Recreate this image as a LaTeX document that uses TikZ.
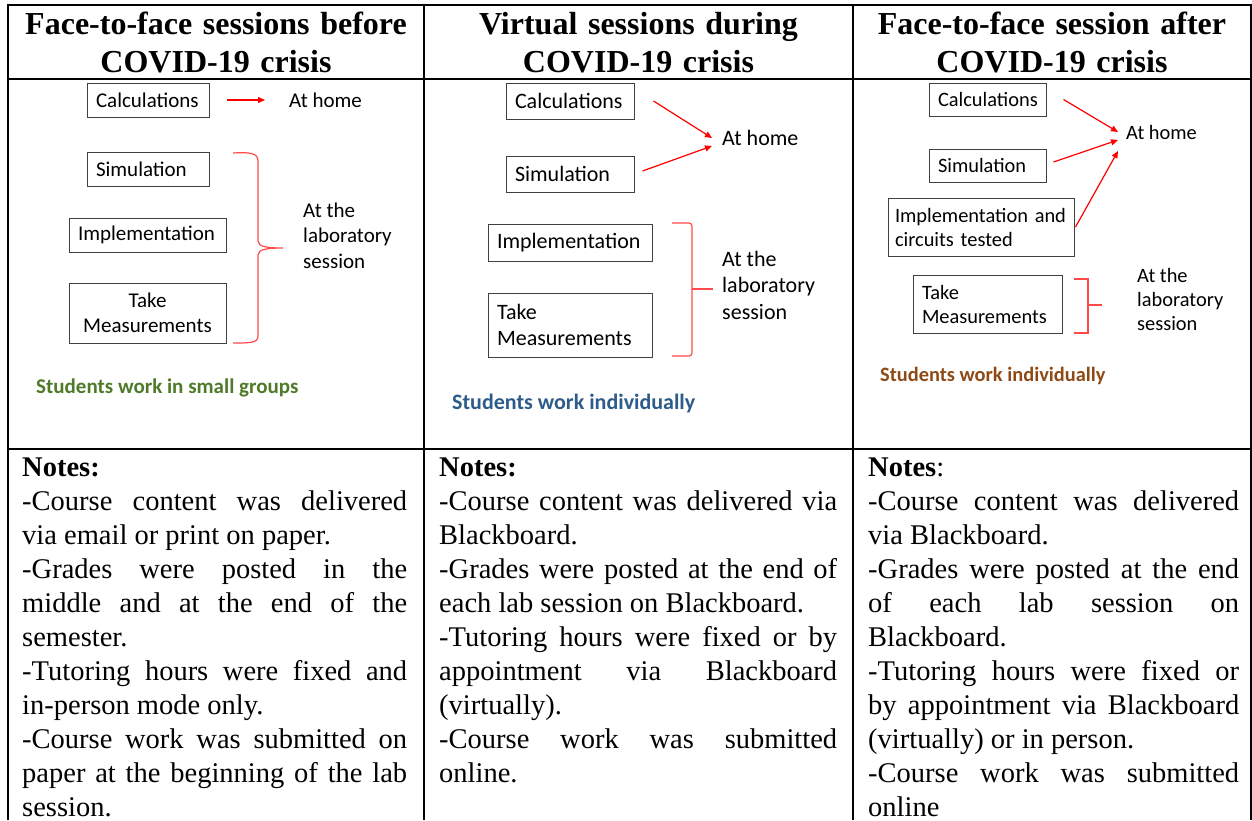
\documentclass[tikz,border=0pt]{standalone}
\usepackage{fontspec}
\setmainfont{Liberation Serif}
\newfontfamily\labfamily{Carlito}
\usepackage{xcolor}
\usetikzlibrary{arrows.meta}
\definecolor{groupgreen}{HTML}{4E7A2A}
\definecolor{soloblue}{HTML}{2E5C8A}
\definecolor{solobrown}{HTML}{8E4A16}
\definecolor{bracered}{HTML}{FF4A4A}
\newcommand\labA{\labfamily\fontsize{21}{25.5}\selectfont}
\newcommand\labB{\labfamily\fontsize{22}{26.5}\selectfont}
\newcommand\labC{\labfamily\fontsize{20.4}{24}\selectfont}
\tikzset{grid/.style={line width=1.3pt},
         head/.style={font=\bfseries\fontsize{32}{38}\selectfont,text width=400pt,align=center,inner sep=0pt,anchor=base},
         task/.style={rectangle,draw=black!75,line width=1pt,inner xsep=9pt,inner ysep=0pt,align=left},
         place/.style={inner sep=0pt,anchor=west,align=left},
         crew/.style={inner sep=0pt,anchor=base west},
         notes/.style={font=\fontsize{28.5}{34}\selectfont,align=justify,inner sep=0pt,anchor=base west},
         arrow/.style={-{Triangle[length=7pt,width=6pt]},red,line width=1.2pt},
         bracket/.style={bracered,line width=1.2pt}}

\begin{document}
\begin{tikzpicture}[x=1pt,y=-1pt]
    \useasboundingbox (0,0) rectangle (1252,820);
    % Table grid
    \draw[grid] (8,820) -- (8,5) -- (1251,5) -- (1251,820);
    \draw[grid] (424,5) -- (424,820);
    \draw[grid] (853,5) -- (853,820);
    \draw[grid] (8,79) -- (1251,79);
    \draw[grid] (8,449) -- (1251,449);
    % Headings
    \node (headA) at (216,34) [head]{Face-to-face sessions before\\COVID-19 crisis};
    \node (headB) at (638.5,34) [head]{Virtual sessions during\\COVID-19 crisis};
    \node (headC) at (1052,34) [head]{Face-to-face session after\\COVID-19 crisis};
    % Before: tasks
    \node (calcA) at (148,100) [task,font=\labA,text width=104pt,minimum height=34pt]{Calculations};
    \node (simA) at (148,169) [task,font=\labA,text width=104pt,minimum height=34pt]{Simulation};
    \node (implA) at (147.5,235) [task,font=\labA,text width=139pt,minimum height=34pt]{Implementation};
    \node (measA) at (147.5,313) [task,font=\labA,text width=139pt,minimum height=60pt,align=center]{Take\\Measurements};
    \node (homeA) at (289,100) [place,font=\labA]{At home};
    \node (labA) at (303,235.5) [place,font=\labA]{At the\\laboratory\\session};
    \node (crewA) at (36,393) [crew,font=\labA\bfseries,text=groupgreen]{Students work in small groups};
    \draw[arrow] ([xshift=17pt]calcA.east) -- ([xshift=-24pt]homeA.west);
    \draw[bracket] (233,153) .. controls (250,152) and (258,153) .. (258,161) -- (258,241)
        .. controls (258,247) and (268,248) .. (283,248) .. controls (268,248) and (258,249) .. (258,255)
        -- (258,336) .. controls (258,343) and (250,343) .. (233,343);
    % During: tasks
    \node (calcB) at (570,101) [task,font=\labB,text width=110pt,minimum height=36pt]{Calculations};
    \node (simB) at (570,174) [task,font=\labB,text width=110pt,minimum height=36pt]{Simulation};
    \node (implB) at (570,242.5) [task,font=\labB,text width=146pt,minimum height=37pt]{Implementation};
    \node (measB) at (570,325) [task,font=\labB,text width=146pt,minimum height=64pt]{Take\\Measurements};
    \node (homeB) at (722,138) [place,font=\labB]{At home};
    \node (labB) at (722,285) [place,font=\labB]{At the\\laboratory\\session};
    \node (crewB) at (452,409) [crew,font=\labB\bfseries,text=soloblue]{Students work individually};
    \draw[arrow] ([xshift=19pt]calcB.east) -- ([xshift=-10pt]homeB.west);
    \draw[arrow] ([xshift=8pt,yshift=3pt]simB.east) -- ([xshift=-10pt,yshift=-8pt]homeB.west);
    \draw[bracket,rounded corners=3pt] (672,223) -- (692,223) -- (692,356) -- (672,356);
    \draw[bracket] (692,289) -- (713,289);
    % After: tasks
    \node (calcC) at (987.5,99.5) [task,font=\labC,text width=99pt,minimum height=33pt]{Calculations};
    \node (simC) at (987.5,165.5) [task,font=\labC,text width=99pt,minimum height=33pt]{Simulation};
    \node (implC) at (981,227) [task,font=\labC,inner xsep=7pt,text width=172pt,minimum height=58pt]{Implementation and\\circuits tested};
    \node (measC) at (987.5,304) [task,font=\labC,text width=131pt,minimum height=58pt]{Take\\Measurements};
    \node (homeC) at (1126,132) [place,font=\labC]{At home};
    \node (labC) at (1137,299) [place,font=\labC]{At the\\laboratory\\session};
    \node (crewC) at (880,381) [crew,font=\labC\bfseries,text=solobrown]{Students work individually};
    \draw[arrow] ([xshift=17pt]calcC.east) -- ([xshift=-8pt]homeC.west);
    \draw[arrow] ([xshift=7pt,yshift=3.5pt]simC.east) -- ([xshift=-8pt,yshift=-8pt]homeC.west);
    \draw[arrow] ([xshift=1pt]implC.east) -- ([xshift=-8pt,yshift=-19pt]homeC.west);
    \draw[bracket] (1074,279) -- (1088,279) -- (1088,333) -- (1074,333);
    \draw[bracket] (1088,305) -- (1102,305);
    % Notes
    \node (noteA) at (22,476) [notes,text width=385pt]{\textbf{Notes:}\\
        -Course content was delivered\linebreak via email or print on paper.\\
        -Grades were posted in the\linebreak middle and at the end of the\linebreak semester.\\
        -Tutoring hours were fixed and\linebreak in-person mode only.\\
        -Course work was submitted on\linebreak paper at the beginning of the lab\linebreak session.};
    \node (noteB) at (439,476) [notes,text width=398pt]{\textbf{Notes:}\\
        -Course content was delivered via\linebreak Blackboard.\\
        -Grades were posted at the end of\linebreak each lab session on Blackboard.\\
        -Tutoring hours were fixed or by\linebreak appointment via Blackboard\linebreak (virtually).\\
        -Course work was submitted\linebreak online.};
    \node (noteC) at (868,476) [notes,text width=371pt]{\textbf{Notes}:\\
        -Course content was delivered\linebreak via Blackboard.\\
        -Grades were posted at the end\linebreak of each lab session on\linebreak Blackboard.\\
        -Tutoring hours were fixed or\linebreak by appointment via Blackboard\linebreak (virtually) or in person.\\
        -Course work was submitted\linebreak online};
\end{tikzpicture}
\end{document}
